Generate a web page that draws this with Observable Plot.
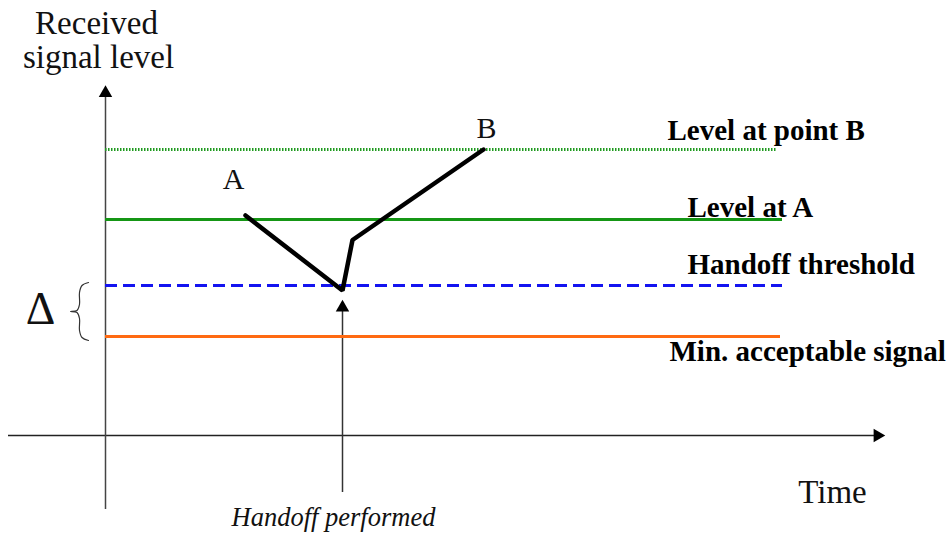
<!DOCTYPE html>
<html>
<head>
<meta charset="utf-8">
<script src="https://cdn.jsdelivr.net/npm/d3@7"></script>
<script src="https://cdn.jsdelivr.net/npm/@observablehq/plot@0.6"></script>
<style>
  html, body { margin: 0; padding: 0; background: #fff; }
</style>
</head>
<body>
<div id="chart"></div>
<script>
// ---- data (time units on x, signal level units on y) ----
const levelNames   = ["Level at point B", "Level at A", "Handoff threshold", "Min. acceptable signal"];
const levelValues  = [5.72, 4.32, 3.0, 1.98];
const levelEnds    = [6.72, 6.77, 6.77, 6.75];
const levelColors  = ["#1f9a1f", "#159615", "#1414f0", "#ff6a12"];
const levelDashes  = ["1.5,1.5", null, "12,6", null];
const levelWidths  = [3, 3, 3, 3];
const labelX       = [5.62, 5.82, 5.82, 5.64];
const labelY       = [5.92, 4.38, 3.24, 1.50];

// signal path of the mobile moving from A to B
const pathTime  = [1.40, 2.37, 2.47, 3.78];
const pathLevel = [4.40, 2.90, 3.91, 5.72];

// axes extents
const axisTimeStart = -0.97, axisTimeEnd = 7.75;
const axisLevelStart = -1.48, axisLevelEnd = 6.9;
const handoffTime = 2.37, handoffArrowFrom = -1.14, handoffArrowTo = 2.56;

// brace marking the hysteresis margin Delta
const braceTime  = [-0.17, -0.235, -0.26, -0.26, -0.285, -0.35, -0.285, -0.26, -0.26, -0.235, -0.17];
const braceLevel = [3.06, 3.0, 2.86, 2.62, 2.5, 2.48, 2.46, 2.34, 2.1, 1.96, 1.9];

// free text annotations
const annotations = [
  {t: -0.09, v: 8.04, text: "Received", size: 33, style: "normal", anchor: "middle"},
  {t: -0.07, v: 7.36, text: "signal level", size: 33, style: "normal", anchor: "middle"},
  {t: 1.28, v: 4.94, text: "A", size: 30, style: "normal", anchor: "middle"},
  {t: 3.81, v: 5.96, text: "B", size: 30, style: "normal", anchor: "middle"},
  {t: -0.65, v: 2.24, text: "Δ", size: 46, style: "normal", anchor: "middle"},
  {t: 7.27, v: -1.34, text: "Time", size: 33, style: "normal", anchor: "middle"},
  {t: 2.28, v: -1.80, text: "Handoff performed", size: 26.5, style: "italic", anchor: "middle"}
];

// ---- build tables ----
const levels = levelNames.map((name, i) => ({
  name, value: levelValues[i], end: levelEnds[i], color: levelColors[i],
  dash: levelDashes[i], width: levelWidths[i], lx: labelX[i], ly: labelY[i]
}));
const signal = pathTime.map((t, i) => ({t, v: pathLevel[i]}));
const brace = braceTime.map((t, i) => ({t, v: braceLevel[i]}));

const serif = "'Liberation Serif', 'Times New Roman', serif";

const marks = [
  // axes
  Plot.ruleY([0], {x1: axisTimeStart, x2: axisTimeEnd, stroke: "#222", strokeWidth: 1.5}),
  Plot.ruleX([0], {y1: axisLevelStart, y2: axisLevelEnd, stroke: "#444", strokeWidth: 1.5}),
  Plot.dot([{t: 0, v: 6.85}], {x: "t", y: "v", symbol: "triangle", r: 5, fill: "#000", stroke: null}),
  Plot.dot([{t: 7.72, v: 0}], {x: "t", y: "v", symbol: "triangle", r: 5, fill: "#000", stroke: null, rotate: 90}),
  // handoff performed arrow
  Plot.ruleX([handoffTime], {y1: handoffArrowFrom, y2: handoffArrowTo, stroke: "#333", strokeWidth: 1.5}),
  Plot.dot([{t: handoffTime, v: handoffArrowTo}], {x: "t", y: "v", symbol: "triangle", r: 5, fill: "#000", stroke: null}),
];

// level lines
for (const d of levels) {
  marks.push(Plot.ruleY([d.value], {
    x1: 0, x2: d.end, stroke: d.color, strokeWidth: d.width,
    strokeDasharray: d.dash ?? undefined
  }));
}
// level labels
marks.push(Plot.text(levels, {
  x: "lx", y: "ly", text: "name", textAnchor: "start", lineAnchor: "bottom",
  fontSize: 29, fontWeight: "bold", fontFamily: serif, fill: "#000"
}));

// signal path
marks.push(Plot.line(signal, {x: "t", y: "v", stroke: "#000", strokeWidth: 4.5, strokeLinejoin: "miter"}));

// brace
marks.push(Plot.line(brace, {x: "t", y: "v", stroke: "#333", strokeWidth: 1.2, curve: "catmull-rom"}));

// annotations
for (const a of annotations) {
  marks.push(Plot.text([a], {
    x: "t", y: "v", text: "text", textAnchor: a.anchor, lineAnchor: "bottom",
    fontSize: a.size, fontStyle: a.style, fontFamily: serif, fill: "#111"
  }));
}

const chart = Plot.plot({
  width: 951,
  height: 533,
  marginTop: 0, marginRight: 0, marginBottom: 0, marginLeft: 0,
  x: {domain: [-1.05, 8.46], range: [0, 951], axis: null},
  y: {domain: [-1.96, 8.7], range: [533, 0], axis: null},
  style: {background: "#fff", fontFamily: serif, overflow: "visible"},
  marks
});
document.getElementById("chart").appendChild(chart);
</script>
</body>
</html>
